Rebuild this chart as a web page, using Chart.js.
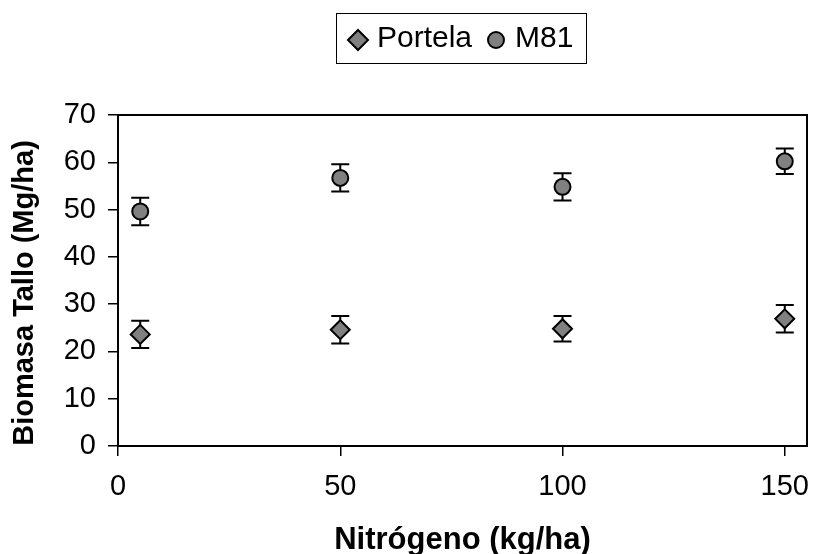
<!DOCTYPE html>
<html>
<head>
<meta charset="utf-8">
<script src="https://cdn.jsdelivr.net/npm/chart.js@4.4.0/dist/chart.umd.min.js"></script>
<style>
  html, body { margin: 0; padding: 0; background: #fff; }
  #wrap { width: 814px; height: 554px; }
</style>
</head>
<body>
<div id="wrap"><canvas id="grafico" width="814" height="554"></canvas></div>
<script>
// Datos
const nitrogeno = [5, 50, 100, 150];
const portela = [23.6, 24.6, 24.8, 26.9];
const portelaErr = [2.9, 2.9, 2.7, 2.9];
const m81 = [49.6, 56.7, 54.8, 60.2];
const m81Err = [2.9, 2.9, 2.9, 2.7];
const xTicks = [0, 50, 100, 150];
const yTicks = [0, 10, 20, 30, 40, 50, 60, 70];

const FUENTE = '"Liberation Sans", Arial, sans-serif';
const GRIS = '#808080';

function puntos(ys) {
  return nitrogeno.map((x, i) => ({ x: x, y: ys[i] }));
}

// error bars, drawn under the markers
const barrasError = {
  id: 'barrasError',
  beforeDatasetsDraw(chart) {
    const { ctx, chartArea, scales: { x, y } } = chart;
    ctx.save();
    // plot frame
    ctx.strokeStyle = '#000';
    ctx.lineWidth = 2;
    ctx.strokeRect(chartArea.left, chartArea.top, chartArea.right - chartArea.left, chartArea.bottom - chartArea.top);

    chart.data.datasets.forEach(ds => {
      ds.data.forEach((p, i) => {
        const px = x.getPixelForValue(p.x);
        const arriba = y.getPixelForValue(p.y + ds.errores[i]);
        const abajo = y.getPixelForValue(p.y - ds.errores[i]);
        ctx.beginPath();
        ctx.moveTo(px, arriba); ctx.lineTo(px, abajo);
        ctx.moveTo(px - 9, arriba); ctx.lineTo(px + 9, arriba);
        ctx.moveTo(px - 9, abajo); ctx.lineTo(px + 9, abajo);
        ctx.stroke();
      });
    });
    ctx.restore();
  }
};

// boxed legend + rotated y title
const extras = {
  id: 'extras',
  afterDraw(chart) {
    const ctx = chart.ctx;
    ctx.save();
    ctx.strokeStyle = '#000';
    ctx.lineWidth = 1;
    ctx.strokeRect(336.5, 13.5, 250, 50);

    ctx.lineWidth = 2;
    ctx.fillStyle = GRIS;
    ctx.beginPath();
    ctx.moveTo(348, 40); ctx.lineTo(358, 30); ctx.lineTo(368, 40); ctx.lineTo(358, 50);
    ctx.closePath();
    ctx.fill(); ctx.stroke();

    ctx.beginPath();
    ctx.arc(496, 40, 8, 0, Math.PI * 2);
    ctx.fill(); ctx.stroke();

    ctx.fillStyle = '#000';
    ctx.font = '30px ' + FUENTE;
    ctx.textBaseline = 'alphabetic';
    ctx.textAlign = 'left';
    ctx.fillText(chart.data.datasets[0].label, 377, 47);
    ctx.fillText(chart.data.datasets[1].label, 515, 47);

    ctx.translate(25, 293);
    ctx.rotate(-Math.PI / 2);
    ctx.textAlign = 'center';
    ctx.textBaseline = 'middle';
    ctx.font = 'bold 29px ' + FUENTE;
    ctx.fillText('Biomasa Tallo (Mg/ha)', 0, 0);
    ctx.restore();
  }
};

const ctx = document.getElementById('grafico').getContext('2d');
new Chart(ctx, {
  type: 'scatter',
  data: {
    datasets: [
      {
        label: 'Portela',
        data: puntos(portela),
        errores: portelaErr,
        pointStyle: 'rectRot',
        pointRadius: 9.5,
        pointHoverRadius: 9.5,
        backgroundColor: GRIS,
        borderColor: '#000',
        borderWidth: 2
      },
      {
        label: 'M81',
        data: puntos(m81),
        errores: m81Err,
        pointStyle: 'circle',
        pointRadius: 8,
        pointHoverRadius: 8,
        backgroundColor: GRIS,
        borderColor: '#000',
        borderWidth: 2
      }
    ]
  },
  options: {
    responsive: false,
    animation: false,
    devicePixelRatio: 1,
    layout: { autoPadding: false, padding: { top: 115, right: 7, left: 0, bottom: 0 } },
    plugins: {
      legend: { display: false },
      tooltip: { enabled: false }
    },
    scales: {
      x: {
        type: 'linear',
        min: 0,
        max: 155,
        afterBuildTicks: s => { s.ticks = xTicks.map(v => ({ value: v })); },
        afterFit: s => { s.height = 108; s.paddingLeft = 0; s.paddingRight = 0; },
        border: { display: false },
        grid: { drawOnChartArea: false, drawTicks: true, tickLength: 10, color: '#000', lineWidth: 1.5 },
        ticks: { color: '#000', font: { family: FUENTE, size: 29 }, padding: 14, maxRotation: 0 },
        title: {
          display: true,
          text: 'Nitrógeno (kg/ha)',
          color: '#000',
          font: { family: FUENTE, size: 31, weight: 'bold', lineHeight: 1 },
          padding: { top: 0, bottom: -2 }
        }
      },
      y: {
        min: 0,
        max: 70,
        afterBuildTicks: s => { s.ticks = yTicks.map(v => ({ value: v })); },
        afterFit: s => { s.width = 118; },
        border: { display: false },
        grid: { drawOnChartArea: false, drawTicks: true, tickLength: 10, color: '#000', lineWidth: 1.5 },
        ticks: { color: '#000', font: { family: FUENTE, size: 29 }, padding: 12 }
      }
    }
  },
  plugins: [barrasError, extras]
});
</script>
</body>
</html>
